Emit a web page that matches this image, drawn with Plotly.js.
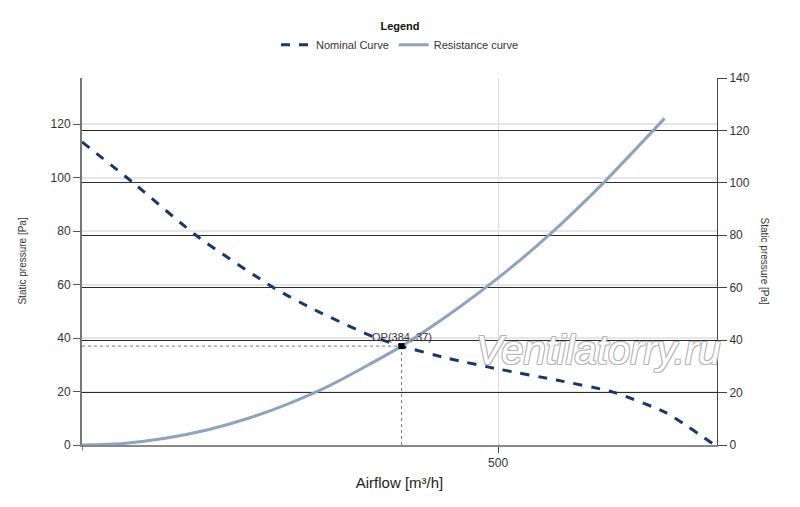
<!DOCTYPE html>
<html>
<head>
<meta charset="utf-8">
<script src="https://cdn.plot.ly/plotly-3.0.1.min.js"></script>
<style>html,body{margin:0;padding:0;background:#fff;}#chart{width:800px;height:507px;}</style>
</head>
<body>
<div id="chart"></div>
<script>
// Nominal fan curve (airflow m3/h, static pressure Pa)
var nominalX = [0, 62, 138, 232, 280, 350, 384, 440, 502, 570, 638, 702, 760];
var nominalY = [113.4, 98, 78.2, 58.5, 50.5, 40.5, 37, 32.4, 28.3, 24.3, 19.8, 12, 0];
// Resistance curve
var resistX = [0, 50, 100, 150, 200, 250, 300, 384, 450, 500, 560, 626, 700];
var resistY = [0, 0.6, 2.5, 5.6, 10, 15.7, 22.6, 37, 50.8, 62.5, 78.2, 97.9, 122.2];
// Operating point
var opX = 384;
var opY = 37;
var opLabel = "OP(384, 37)";
var xTickVals = [500];
var xTickText = ["500"];
var legendTitle = "Legend";
var seriesNames = ["Nominal Curve", "Resistance curve"];
var xTitle = "Airflow [m³/h]";
var yTitle = "Static pressure [Pa]";
var watermark = "Ventilatorry.ru";

var FONT = "Liberation Sans, Arial, sans-serif";

var traces = [
  {x: [0, opX], y: [opY, opY], mode: 'lines', line: {color: '#777', width: 1, dash: 'dot'}, showlegend: false, hoverinfo: 'skip'},
  {x: [opX, opX], y: [0, opY], mode: 'lines', line: {color: '#777', width: 1, dash: 'dot'}, showlegend: false, hoverinfo: 'skip'},
  {x: nominalX, y: nominalY, name: seriesNames[0], mode: 'lines', line: {color: '#163770', width: 3, dash: 'dash', shape: 'spline', smoothing: 0.6}},
  {x: resistX, y: resistY, name: seriesNames[1], mode: 'lines', line: {color: '#8ea3c2', width: 3, shape: 'spline', smoothing: 0.6}},
  {x: [opX], y: [opY], mode: 'markers', marker: {symbol: 'square', size: 6, color: '#000'}, showlegend: false, hoverinfo: 'skip'},
  {x: [0], y: [0], yaxis: 'y2', mode: 'markers', marker: {opacity: 0}, showlegend: false, hoverinfo: 'skip'}
];

var layout = {
  width: 800, height: 507,
  margin: {l: 82, r: 82.5, t: 78, b: 62, autoexpand: false},
  paper_bgcolor: '#fff', plot_bgcolor: '#fff',
  font: {family: FONT, size: 11, color: '#333'},
  showlegend: true,
  legend: {
    orientation: 'h', x: 0.5, xanchor: 'center', xref: 'container', y: 1 - 16 / 507, yanchor: 'top', yref: 'container',
    font: {family: FONT, size: 11, color: '#333'},
    title: {text: '<b>' + legendTitle + '</b>', side: 'top center', font: {family: FONT, size: 11, color: '#111'}},
    traceorder: 'normal'
  },
  xaxis: {
    range: [0, 763], tickvals: xTickVals, ticktext: xTickText,
    showgrid: true, gridcolor: '#dcdcdc', gridwidth: 1,
    showline: true, linecolor: '#888', linewidth: 2,
    ticks: 'outside', ticklen: 6, tickcolor: '#444',
    tickfont: {family: FONT, size: 12, color: '#333'},
    zeroline: false,
    title: {text: xTitle, font: {family: FONT, size: 15, color: '#222'}, standoff: 8}
  },
  yaxis: {
    range: [0, 137.3], dtick: 20, tick0: 0,
    showgrid: true, gridcolor: '#e6e6e6', gridwidth: 2,
    showline: true, linecolor: '#777', linewidth: 2,
    ticks: 'outside', ticklen: 7, tickcolor: '#555',
    tickfont: {family: FONT, size: 12, color: '#333'},
    zeroline: false
  },
  yaxis2: {
    range: [0, 140], dtick: 20, tick0: 0,
    overlaying: 'y', side: 'right',
    showgrid: true, gridcolor: '#2a2a2a', gridwidth: 1,
    showline: true, linecolor: '#444', linewidth: 1,
    ticks: 'outside', ticklen: 9, tickcolor: '#444',
    tickfont: {family: FONT, size: 12, color: '#333'},
    zeroline: false
  },
  shapes: [
    {type: 'line', xref: 'x', yref: 'paper', x0: 0, x1: 0, y0: -0.015, y1: 0, line: {color: '#777', width: 2}}
  ],
  annotations: [
    {x: opX, y: opY, xref: 'x', yref: 'y', text: opLabel, showarrow: false, yanchor: 'bottom', yshift: 1,
     font: {family: FONT, size: 11, color: '#333'}},
    {x: 621, y: 35.5, xref: 'x', yref: 'y', text: '<i>' + watermark + '</i>', showarrow: false,
     font: {family: FONT, size: 40, color: '#ffffff',
            shadow: '1px 1px 0 #b5b5b5, -1px -1px 0 #b5b5b5, 1px -1px 0 #b5b5b5, -1px 1px 0 #b5b5b5'}},
    {x: 22, y: 0.5, xref: 'paper', yref: 'paper', xanchor: 'center', text: yTitle, showarrow: false, textangle: -90,
     font: {family: FONT, size: 10, color: '#333'}},
    {x: 773, y: 0.5, xref: 'paper', yref: 'paper', text: yTitle, showarrow: false, textangle: 90,
     font: {family: FONT, size: 10, color: '#333'}}
  ]
};
// convert pixel-based title x positions to paper coords
layout.annotations[2].x = (22 - 82) / (800 - 82 - 82.5);
layout.annotations[3].x = (773 - 82) / (800 - 82 - 82.5);

Plotly.newPlot('chart', traces, layout, {displayModeBar: false, staticPlot: true});
</script>
</body>
</html>
